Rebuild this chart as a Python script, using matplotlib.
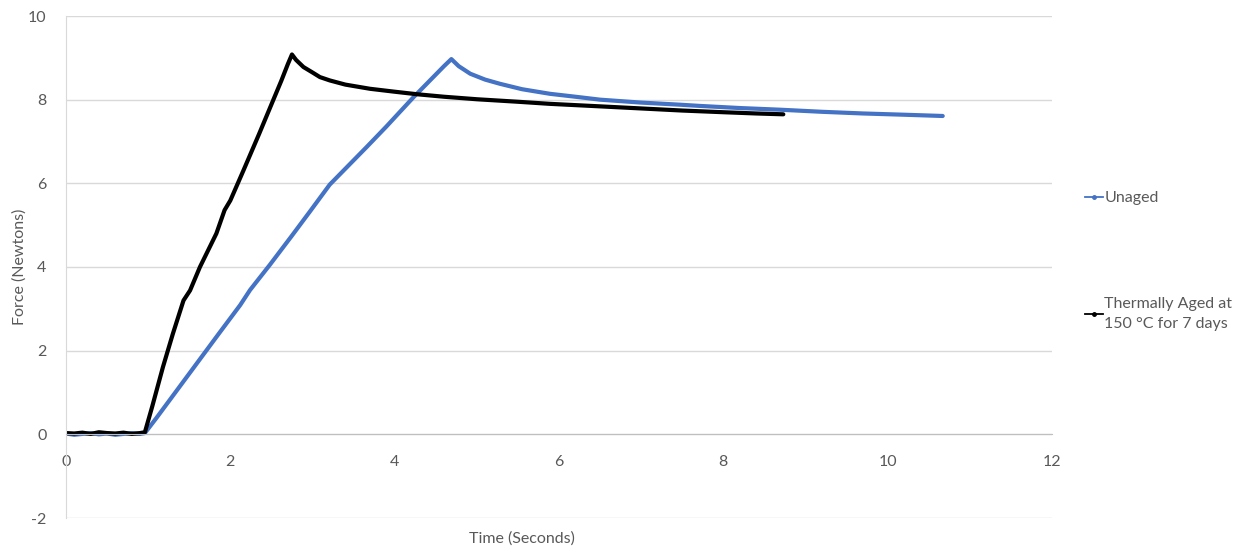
import matplotlib.pyplot as plt
from matplotlib.lines import Line2D

# Unaged sample (blue)
t_unaged = [0.00, 0.10, 0.20, 0.30, 0.40, 0.50, 0.60, 0.70, 0.80, 0.90, 0.96,
            1.10, 1.30, 1.59, 1.85, 2.12, 2.24, 2.48, 2.75, 2.97, 3.21, 3.45,
            3.66, 3.90, 4.06, 4.23, 4.45, 4.60, 4.69, 4.78, 4.92, 5.10, 5.28,
            5.55, 5.89, 6.20, 6.50, 7.00, 7.47, 7.72, 8.20, 8.69, 9.20, 9.70,
            10.20, 10.67]
f_unaged = [0.02, -0.01, 0.01, 0.03, 0.00, 0.02, -0.01, 0.01, 0.03, 0.01, 0.03,
            0.39, 0.92, 1.69, 2.38, 3.09, 3.45, 4.05, 4.75, 5.33, 5.97, 6.45,
            6.87, 7.36, 7.70, 8.06, 8.50, 8.80, 8.97, 8.80, 8.62, 8.48, 8.38,
            8.25, 8.14, 8.07, 8.00, 7.93, 7.88, 7.85, 7.80, 7.76, 7.71, 7.67,
            7.64, 7.61]

# Thermally aged sample (black)
t_aged = [0.00, 0.10, 0.20, 0.30, 0.40, 0.50, 0.60, 0.70, 0.80, 0.90, 0.96,
          1.05, 1.18, 1.30, 1.43, 1.51, 1.63, 1.83, 1.93, 2.00, 2.16, 2.35,
          2.52, 2.62, 2.70, 2.75, 2.80, 2.89, 3.00, 3.09, 3.21, 3.40, 3.70,
          4.00, 4.27, 4.60, 5.00, 5.50, 5.89, 6.50, 7.00, 7.50, 8.00, 8.40,
          8.73]
f_aged = [0.03, 0.02, 0.04, 0.01, 0.05, 0.03, 0.02, 0.04, 0.01, 0.03, 0.05,
          0.67, 1.61, 2.40, 3.20, 3.44, 4.00, 4.80, 5.36, 5.59, 6.31, 7.18,
          7.98, 8.45, 8.85, 9.08, 8.95, 8.78, 8.65, 8.54, 8.46, 8.36, 8.26,
          8.19, 8.13, 8.07, 8.01, 7.95, 7.90, 7.84, 7.79, 7.74, 7.70, 7.67,
          7.65]

labels = ['Unaged', 'Thermally Aged at\n150 °C for 7 days']
colors = ['#4472C4', '#000000']

plt.rcParams['font.family'] = ['Lato', 'DejaVu Sans']
plt.rcParams['axes.unicode_minus'] = False
txt = '#595959'
fs = 11.5

fig = plt.figure(figsize=(12.44, 5.54), dpi=100)
ax = fig.add_axes([66/1244, 1 - 518/554, (1052 - 66)/1244, (518 - 16)/554])

ax.plot(t_unaged, f_unaged, color=colors[0], lw=3, solid_joinstyle='round',
        solid_capstyle='round')
ax.plot(t_aged, f_aged, color=colors[1], lw=3, solid_joinstyle='round',
        solid_capstyle='round')

ax.set_xlim(0, 12)
ax.set_ylim(-2, 10)
ax.set_xticks(range(0, 13, 2))
ax.set_yticks(range(-2, 11, 2))

ax.grid(axis='y', color='#d9d9d9', lw=1)
ax.set_axisbelow(True)
for s in ['top', 'right']:
    ax.spines[s].set_visible(False)
ax.spines['bottom'].set_position(('data', 0))
ax.spines['bottom'].set_color('#bfbfbf')
ax.spines['left'].set_color('#d9d9d9')
ax.tick_params(axis='both', length=0, labelsize=fs, labelcolor=txt)
ax.tick_params(axis='x', pad=15)
ax.tick_params(axis='y', pad=14)

fig.text(20/1244, 1 - 267/554, 'Force (Newtons)', fontsize=fs, color=txt,
         ha='center', va='center', rotation=90)
fig.text(522/1244, 1 - 539/554, 'Time (Seconds)', fontsize=fs, color=txt,
         ha='center', va='center')

handles = [Line2D([], [], color=c, lw=1.3, marker='o', ms=2.5) for c in colors]
leg = fig.legend(handles, labels, loc='center left',
                 bbox_to_anchor=(1085/1244, 1 - 261/554),
                 frameon=False, fontsize=fs, labelcolor=txt, handlelength=1.1,
                 handletextpad=0.1, labelspacing=5.75, borderpad=0, borderaxespad=0)
leg.get_texts()[1].set_linespacing(1.5)

plt.savefig('out.png', dpi=100)
